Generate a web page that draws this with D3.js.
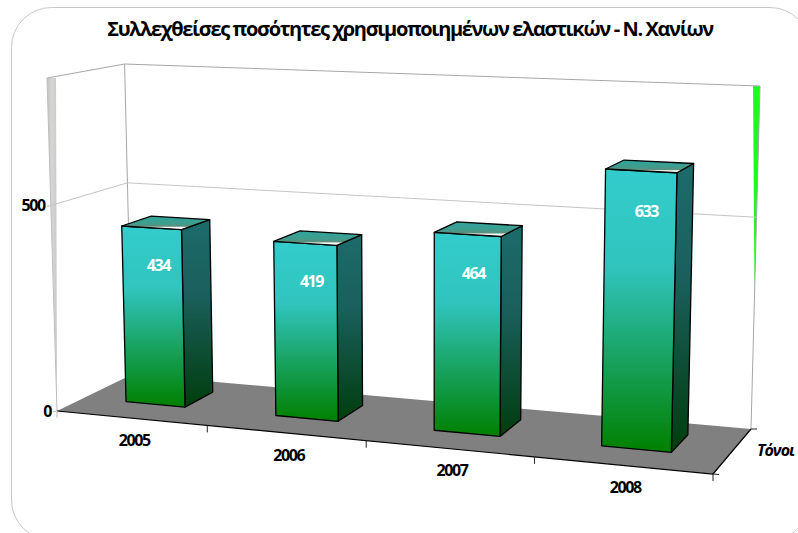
<!DOCTYPE html>
<html>
<head>
<meta charset="utf-8">
<script src="https://cdn.jsdelivr.net/npm/d3@7"></script>
<style>
body { margin: 0; background: #fff; }
text { font-family: "Open Sans", "DejaVu Sans", sans-serif; }
</style>
</head>
<body>
<div id="chart"></div>
<script>
// chart data
var years = ["2005", "2006", "2007", "2008"];
var tons = [434, 419, 464, 633];
var yTicks = [0, 500];
var title = "Συλλεχθείσες ποσότητες χρησιμοποιημένων ελαστικών - Ν. Χανίων";
var depthLabel = "Τόνοι";

var width = 798, height = 533;

var svg = d3.select("#chart").append("svg")
    .attr("width", width)
    .attr("height", height)
    .style("display", "block");

// projective map of the floor: unit square to its 4 screen corners
function homography(p00, p10, p11, p01) {
    var dx1 = p10[0] - p11[0], dx2 = p01[0] - p11[0], sx = p00[0] - p10[0] + p11[0] - p01[0];
    var dy1 = p10[1] - p11[1], dy2 = p01[1] - p11[1], sy = p00[1] - p10[1] + p11[1] - p01[1];
    var den = dx1 * dy2 - dx2 * dy1;
    var g = (sx * dy2 - dx2 * sy) / den;
    var h = (dx1 * sy - sx * dy1) / den;
    var a = p10[0] - p00[0] + g * p10[0], b = p01[0] - p00[0] + h * p01[0], c = p00[0];
    var d = p10[1] - p00[1] + g * p10[1], e = p01[1] - p00[1] + h * p01[1], f = p00[1];
    return function (u, w) {
        var k = g * u + h * w + 1;
        return [(a * u + b * w + c) / k, (d * u + e * w + f) / k];
    };
}

var floorMap = homography([57, 411], [713, 474], [751, 429], [132, 374.5]);

// verticals all meet at this far point below the chart
var vanish = [427, 12746];
// box height in pixels at the corners: front left, front right, back right, back left
var boxHeight = [333, 370, 343, 310.5];

// scales, all in box units
var xScale = d3.scaleBand().domain(years).range([0, 1]).paddingInner(0.6).paddingOuter(0.3).align(0.48);
var yScale = d3.scaleLinear().domain([0, 810]).range([0, 1]);
var zScale = d3.scaleLinear().domain([0, 1]).range([0.35, 0.75]); // bar depth inside the box

function project(u, v, w) {
    var f = floorMap(u, w);
    var front = boxHeight[0] + (boxHeight[1] - boxHeight[0]) * u;
    var back = boxHeight[3] + (boxHeight[2] - boxHeight[3]) * u;
    var h = (front + (back - front) * w) * v;
    var lean = (vanish[0] - f[0]) / (vanish[1] - f[1]);
    return [f[0] - lean * h, f[1] - h];
}

function poly(points) {
    return "M" + points.map(function (p) { return p[0] + "," + p[1]; }).join("L") + "Z";
}

var defs = svg.append("defs");

function gradient(id, stops, x1, y1, x2, y2) {
    var g = defs.append("linearGradient").attr("id", id)
        .attr("x1", x1).attr("y1", y1).attr("x2", x2).attr("y2", y2);
    stops.forEach(function (s) {
        g.append("stop").attr("offset", s[0]).attr("stop-color", s[1]);
    });
}

gradient("barFront", [[0, "#33cccc"], [0.35, "#30c4bd"], [1, "#008000"]], 0, 0, 0, 1);
gradient("barSide", [[0, "#1c6b6b"], [0.4, "#1a5f5c"], [1, "#003d0d"]], 0, 0, 0, 1);
gradient("barTop", [[0, "#2fa59f"], [0.55, "#3f9d8c"], [0.75, "#5d8f7e"], [0.84, "#ffffff"], [1, "#ffffff"]], 0, 0, 0, 1);
gradient("leftWall", [[0, "#c2c4c0"], [0.5, "#d6d7d4"], [1, "#c8cac6"]], 0, 0, 1, 0);

// outer rounded frame, runs off the page on the right and the bottom
svg.append("rect")
    .attr("x", 11.5).attr("y", 7.5)
    .attr("width", 798.5).attr("height", 532.5)
    .attr("rx", 40).attr("ry", 40)
    .attr("fill", "#fff")
    .attr("stroke", "#c8c8c8");

// floor
svg.append("path")
    .attr("d", poly([project(0, 0, 0), project(1, 0, 0), project(1, 0, 1), project(0, 0, 1)]))
    .attr("fill", "#808080");

// side walls seen nearly edge on
var lt = project(0, 1, 0), lb = project(0, 0, 0);
svg.append("path")
    .attr("d", poly([lt, [lt[0] + 9, lt[1]], [lb[0], lb[1] - 10]]))
    .attr("fill", "url(#leftWall)");
var rt = project(1, 1, 1);
svg.append("path")
    .attr("d", poly([[rt[0] - 7, rt[1]], rt, [rt[0] - 5.5, rt[1] + 207]]))
    .attr("fill", "#1cfc1c");

// wall edges
var edge = "#a6a6a6";
function wallLine(points, color) {
    svg.append("path")
        .attr("d", "M" + points.map(function (p) { return project(p[0], p[1], p[2]).join(","); }).join("L"))
        .attr("fill", "none")
        .attr("stroke", color)
        .attr("stroke-width", 1);
}
wallLine([[0, 1, 0], [0, 1, 1], [1, 1, 1], [1, 0, 1]], edge);
wallLine([[0, 1, 1], [0, 0, 1]], edge);
wallLine([[0, 1, 0], [0, 0, 0]], "#bdbdbd");

// horizontal gridlines on the walls, with a small tick at the front
yTicks.forEach(function (t) {
    var v = yScale(t);
    var p = project(0, v, 0);
    svg.append("line")
        .attr("x1", p[0] - 4).attr("y1", p[1] + 1)
        .attr("x2", p[0]).attr("y2", p[1])
        .attr("stroke", "#c4c4c4");
    if (t > 0) wallLine([[0, v, 0], [0, v, 1], [1, v, 1]], "#c4c4c4");
});

// axis lines of the floor
svg.append("path")
    .attr("d", "M" + project(0, 0, 0).join(",") + "L" + project(1, 0, 0).join(",") + "L" + project(1, 0, 1).join(","))
    .attr("fill", "none")
    .attr("stroke", "#000")
    .attr("stroke-width", 1.2);

// category ticks
d3.range(years.length + 1).forEach(function (i) {
    var p = project(i / years.length, 0, 0);
    svg.append("line")
        .attr("x1", p[0]).attr("y1", p[1])
        .attr("x2", p[0]).attr("y2", p[1] + 7)
        .attr("stroke", i === 0 ? "#bdbdbd" : "#222");
});
var backTick = project(1, 0, 1);
svg.append("line")
    .attr("x1", backTick[0]).attr("y1", backTick[1])
    .attr("x2", backTick[0] + 6).attr("y2", backTick[1])
    .attr("stroke", "#222");
var frontTick = project(1, 0, 0);
svg.append("line")
    .attr("x1", frontTick[0]).attr("y1", frontTick[1])
    .attr("x2", frontTick[0] + 6).attr("y2", frontTick[1] + 0.5)
    .attr("stroke", "#222");

// bars
var bars = svg.selectAll("g.bar")
    .data(years.map(function (y, i) { return { year: y, value: tons[i] }; }))
    .enter().append("g")
    .attr("class", "bar");

bars.each(function (d) {
    var g = d3.select(this);
    var u0 = xScale(d.year), u1 = u0 + xScale.bandwidth();
    var w0 = zScale(0), w1 = zScale(1), v = yScale(d.value);
    function face(points, fill) {
        g.append("path")
            .attr("d", poly(points))
            .attr("fill", fill)
            .attr("stroke", "#000")
            .attr("stroke-width", 1.3)
            .attr("stroke-linejoin", "round");
    }
    face([project(u1, 0, w0), project(u1, 0, w1), project(u1, v, w1), project(u1, v, w0)], "url(#barSide)");
    face([project(u0, 0, w0), project(u1, 0, w0), project(u1, v, w0), project(u0, v, w0)], "url(#barFront)");
    face([project(u0, v, w1), project(u1, v, w1), project(u1, v, w0), project(u0, v, w0)], "url(#barTop)");

    var lp = project((u0 + u1) / 2, yScale(d.value - 95), w0);
    g.append("text")
        .attr("x", lp[0] + 6)
        .attr("y", lp[1])
        .attr("text-anchor", "middle")
        .attr("dominant-baseline", "middle")
        .attr("fill", "#fff")
        .attr("font-size", 16)
        .attr("font-weight", 700)
        .attr("letter-spacing", -1.4)
        .text(d.value);
});

// title
svg.append("text")
    .attr("x", 410).attr("y", 35.5)
    .attr("text-anchor", "middle")
    .attr("font-size", 20)
    .attr("font-weight", 700)
    .attr("letter-spacing", -1.37)
    .text(title);

// category labels under the front edge
years.forEach(function (y) {
    var p = project(xScale(y) + xScale.bandwidth() / 2, 0, 0);
    svg.append("text")
        .attr("x", p[0] + 5).attr("y", p[1] + 28)
        .attr("text-anchor", "middle")
        .attr("font-size", 16)
        .attr("font-weight", 700)
        .attr("letter-spacing", -1.4)
        .text(y);
});

// value axis labels
yTicks.forEach(function (t) {
    var p = project(0, yScale(t), 0);
    svg.append("text")
        .attr("x", p[0] - 6).attr("y", p[1] + 6)
        .attr("text-anchor", "end")
        .attr("font-size", 16)
        .attr("font-weight", 700)
        .attr("letter-spacing", -1.4)
        .text(t);
});

// depth axis label
svg.append("text")
    .attr("x", 757).attr("y", 456)
    .attr("font-size", 16)
    .attr("font-weight", 700)
    .attr("font-style", "italic")
    .attr("letter-spacing", -1)
    .text(depthLabel);
</script>
</body>
</html>
